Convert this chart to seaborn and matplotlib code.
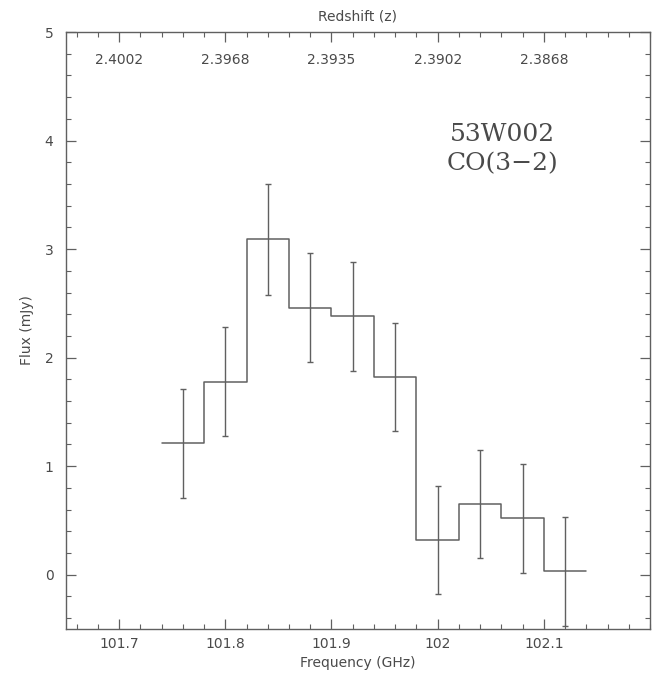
import matplotlib
matplotlib.use("Agg")
import matplotlib.pyplot as plt
from matplotlib.ticker import MultipleLocator, FixedLocator
import numpy as np
import pandas as pd
import seaborn as sns

# CO(3-2) spectrum of 53W002: channel centres (GHz), flux (mJy) and 1-sigma errors
freq_centres = [101.76, 101.80, 101.84, 101.88, 101.92, 101.96, 102.00, 102.04, 102.08, 102.12]
flux = [1.21, 1.78, 3.09, 2.46, 2.38, 1.82, 0.32, 0.65, 0.52, 0.03]
flux_err = [0.50, 0.50, 0.51, 0.50, 0.50, 0.50, 0.50, 0.50, 0.50, 0.50]
channel_width = 0.04

# Top axis: redshift at the frequency tick positions
freq_ticks = [101.7, 101.8, 101.9, 102.0, 102.1]
freq_tick_labels = ["101.7", "101.8", "101.9", "102", "102.1"]
redshift_labels = ["2.4002", "2.3968", "2.3935", "2.3902", "2.3868"]
y_ticks = [0, 1, 2, 3, 4, 5]

sns.set_style("ticks")
plt.rcParams["font.family"] = ["DejaVu Sans"]
plt.rcParams["font.sans-serif"] = ["DejaVu Sans"]

ink = "#606060"
text_col = "#4a4a4a"
fs = 10

fig = plt.figure(figsize=(6.52, 6.75), dpi=100)
ax = fig.add_axes([66 / 652, 46 / 675, 584 / 652, 597 / 675])

# Histogram-style step through the channel edges
edges = [c - channel_width / 2 for c in freq_centres] + [freq_centres[-1] + channel_width / 2]
step_df = pd.DataFrame({"freq": edges, "flux": flux + [flux[-1]]})
sns.lineplot(data=step_df, x="freq", y="flux", drawstyle="steps-post",
             color=ink, lw=1.1, ax=ax, estimator=None)

ax.errorbar(freq_centres, flux, yerr=flux_err, fmt="none", ecolor=ink,
            elinewidth=1.0, capsize=2.2, capthick=1.0)

ax.set_xlim(101.65, 102.2)
ax.set_ylim(-0.5, 5)

ax.xaxis.set_major_locator(FixedLocator(freq_ticks))
ax.set_xticklabels(freq_tick_labels)
ax.xaxis.set_minor_locator(MultipleLocator(0.02))
ax.yaxis.set_major_locator(FixedLocator(y_ticks))
ax.yaxis.set_minor_locator(MultipleLocator(0.2))

ax.tick_params(which="both", direction="in", top=True, right=True,
               color=ink, labelcolor=text_col, labelsize=fs)
ax.tick_params(which="major", length=7, width=0.9)
ax.tick_params(which="minor", length=3.5, width=0.8)
ax.tick_params(axis="x", pad=6)
ax.tick_params(axis="y", pad=9)

for s in ax.spines.values():
    s.set_color(ink)
    s.set_linewidth(1.0)

ax.set_xlabel("Frequency (GHz)", color=text_col, fontsize=fs, labelpad=3)
ax.set_ylabel("Flux (mJy)", color=text_col, fontsize=fs, labelpad=8)

# Redshift scale written just inside the top of the frame
top = ax.secondary_xaxis("top")
top.xaxis.set_major_locator(FixedLocator(freq_ticks))
top.set_xticklabels(redshift_labels)
top.tick_params(direction="in", length=0, pad=-25, labelcolor=text_col, labelsize=fs)
top.spines["top"].set_visible(False)
ax.set_title("Redshift (z)", color=text_col, fontsize=fs, pad=8)

ax.text(0.748, 0.804, "53W002\nCO(3\u22122)", transform=ax.transAxes,
        ha="center", va="center", fontsize=18, family="DejaVu Serif",
        color=text_col, linespacing=1.35)

fig.savefig("out.png", dpi=100, facecolor="white")
